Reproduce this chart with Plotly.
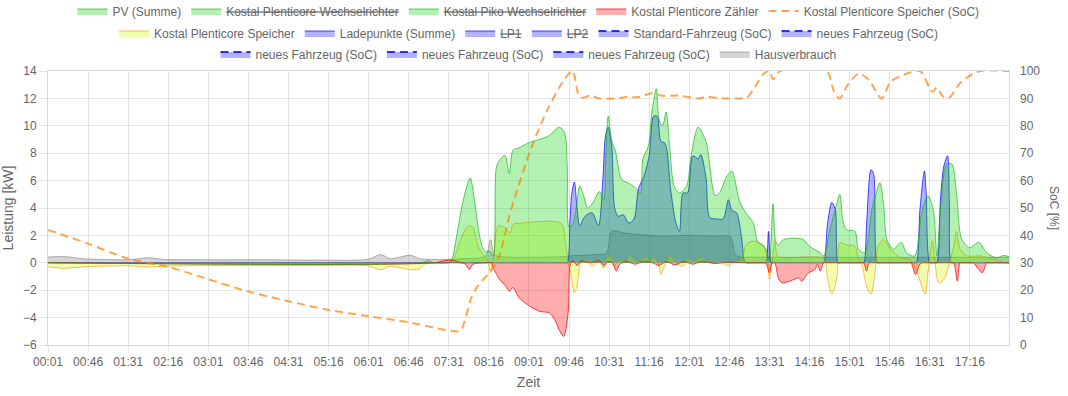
import plotly.graph_objects as go

DAY = "2024-01-01 "

# ---------------- data ----------------
pv_time = ["00:01","07:00","07:08","07:14","07:30","07:33","07:36","07:40","07:47","07:55","08:00",
           "08:05","08:09","08:13","08:17","08:21","08:24","08:27","08:34","08:39","08:43",
           "08:50","09:02","09:13","09:24","09:35","09:41","09:44","09:46","09:50","09:54",
           "09:58","10:02","10:07","10:13","10:20","10:25","10:27","10:30","10:34","10:38",
           "10:45","10:53","11:00","11:06","11:09","11:15","11:19","11:24","11:27","11:31",
           "11:35","11:39","11:44","11:50","11:58","12:03","12:11","12:20","12:30","12:35",
           "12:43","12:49","12:52","12:58","13:05","13:13","13:18","13:24","13:28","13:31",
           "13:35","13:38","13:41","13:47","13:58","14:09","14:16","14:28","14:32","14:39",
           "14:46","14:50","14:54","14:58","15:07","15:11","15:18","15:26","15:31","15:35",
           "15:39","15:43","15:50","15:59","16:05","16:14","16:22","16:29","16:35","16:39",
           "16:43","16:50","16:56","17:01","17:07","17:16","17:26","17:35","17:46","17:54",
           "18:00"]
pv_kw = [0, 0, 0.15, 0, 0, 0.05, 0.6, 2.0, 4.5, 6.2, 4.5,
         2.2, 1.1, 0.8, 0.85, 0.5, 6.8, 7.4, 7.85, 6.5, 8.2,
         8.4, 8.8, 9.0, 9.3, 9.9, 9.5, 7.0, 2.6, 2.8, 4.0,
         5.6, 5.0, 4.0, 4.4, 5.2, 4.6, 7.5, 10.7, 8.9, 8.2,
         6.1, 5.8, 5.5, 5.1, 7.6, 8.5, 11.0, 12.7, 10.5, 10.0,
         11.0, 8.5, 5.6, 5.1, 5.6, 7.8, 9.9, 8.8, 4.9, 5.1,
         6.3, 6.7, 6.1, 4.4, 3.6, 2.9, 1.5, 1.3, 0.85, 0.2,
         4.3, 1.6, 1.3, 1.7, 1.8, 1.7, 1.2, 0.73, 0.5, 2.44,
         4.15, 5.0, 2.9, 2.4, 2.3, 1.0, 0.73, 3.9, 5.1, 5.85,
         4.4, 1.7, 0.98, 1.5, 0.73, 0.5, 3.66, 4.9, 3.9, 0.5,
         3.9, 7.2, 7.2, 5.1, 1.7, 1.1, 1.5, 0.73, 0.37, 0.54,
         0.44]

zaehler_time = ["00:01","07:15","07:25","07:35","07:45","07:50","07:54","07:58","08:12","08:18",
                "08:22","08:28","08:35","08:39","08:43","08:50","09:02","09:13","09:24","09:30",
                "09:35","09:40","09:45","09:47","09:50","09:55","10:00","10:10","10:20","10:25",
                "10:30","10:35","10:39","10:43","10:50","11:00","11:10","11:20","11:27","11:35",
                "11:45","11:55","12:05","12:15","12:30","12:45","13:00","13:24","13:27","13:31",
                "13:34","13:37","13:41","13:45","13:54","14:04","14:07","14:15","14:22","14:25",
                "14:28","14:32","14:35","15:14","15:17","15:20","15:23","15:26","16:07","16:10",
                "16:15","16:20","16:23","16:26","16:55","16:58","17:02","17:05","17:08","17:17",
                "17:20","17:25","17:30","17:35","17:38","18:00"]
zaehler_kw = [0, 0, 0.15, 0.2, 0, -0.1, -0.5, -0.1, 0, 0,
              -0.5, -1.2, -1.7, -2.07, -1.8, -2.56, -3.17, -3.54, -3.66, -4.15,
              -4.9, -5.37, -3.66, -0.25, 0.2, -0.2, 0.15, 0.0, 0.2, -0.2,
              0.1, 0.0, -0.6, -0.1, 0.1, -0.1, 0.1, 0.0, -0.2, 0.1,
              -0.15, 0.1, -0.1, 0.1, -0.05, 0.05, 0, 0, 0, -0.73,
              0, 0, -1.1, -1.46, -1.34, -1.1, -1.34, -0.73, -0.5, -0.1,
              -0.6, 0, 0, 0, 0, -0.6, 0, 0, 0, 0,
              -0.85, -0.1, 0, 0, 0, 0, -1.34, 0, 0, 0,
              0, -0.4, -0.73, 0, 0, 0]

speicher_time = ["00:01","00:20","00:40","01:00","01:30","01:55","02:10","03:00","04:00","05:00",
                 "06:00","06:15","06:25","06:48","06:58","07:05","07:30","07:35","07:45","07:53",
                 "07:58","08:03","08:09","08:14","08:18","08:21","08:24","08:27","08:34","08:40",
                 "08:43","08:50","09:37","09:42","09:45","09:48","09:52","09:55","09:59","10:04",
                 "10:12","10:19","10:25","10:28","10:32","10:36","10:43","10:49","10:55","11:00",
                 "11:07","11:13","11:16","11:22","11:27","11:29","11:33","11:39","11:46","11:54",
                 "11:58","12:07","12:13","12:20","12:28","12:35","12:41","12:45","12:50","13:00",
                 "13:04","13:09","13:17","13:21","13:26","13:29","13:31","13:34","13:37","13:40",
                 "13:47","14:30","14:34","14:36","14:41","14:47","14:50","14:58","15:07","15:11",
                 "15:15","15:20","15:25","15:29","15:33","15:39","15:47","15:58","16:09","16:17",
                 "16:22","16:26","16:29","16:34","16:37","16:41","16:47","16:52","16:58","17:01",
                 "17:05","17:13","17:28","17:43","18:00"]
speicher_kw = [-0.3, -0.4, -0.3, -0.25, -0.22, -0.3, -0.25, -0.2, -0.2, -0.2,
               -0.22, -0.5, -0.25, -0.5, -0.45, -0.05, -0.02, 0.1, 1.8, 2.7,
               2.6, 1.4, 0.6, 0.3, -0.7, 0.2, 2.2, 2.7, 2.55, 2.2,
               2.8, 2.88, 2.88, 1.5, 0.0, -0.8, -2.2, -1.7, 0, 0.25,
               -0.25, 0.1, -0.37, 0.37, 0.5, -0.25, 0.2, 0, 0.5, 0.2,
               0.1, 0.5, 0.1, 0.37, -0.25, -0.85, -0.25, 0.5, 0.0, -0.25,
               0.25, 0.1, 0.37, 0.1, 0.0, 0.1, -0.1, -0.25, 0.0, 0.25,
               1.2, 1.54, 1.54, 1.4, 1.0, 0, -1.2, 0, 1.6, 0.5,
               0.37, 0.37, 0.0, -1.0, -2.3, -1.0, 1.46, 1.3, 1.2, 0.25,
               -0.2, -1.7, -2.3, -1.0, 1.2, 1.7, 1.0, 0.37, 0.2, -0.73,
               -1.7, -2.3, -0.73, 1.6, 0, -1.46, -1.2, -0.25, 1.2, 2.3,
               1.0, 0.5, 0.5, 0.25, -0.05]

ladepunkte_time = ["00:01","09:36","09:40","09:44","09:47","09:49","09:52","09:55","09:58","10:04",
                   "10:12","10:19","10:24","10:27","10:30","10:34","10:37","10:41","10:47","10:53",
                   "10:59","11:04","11:10","11:16","11:21","11:25","11:29","11:34","11:40","11:46",
                   "11:50","11:54","11:59","12:05","12:11","12:14","12:20","12:24","12:32","12:39",
                   "12:45","12:49","12:54","13:00","13:03","13:05","13:08","13:24","13:27","13:30",
                   "13:33","13:36","14:26","14:29","14:32","14:36","14:41","14:45","14:48","14:51",
                   "15:11","15:14","15:17","15:20","15:25","15:28","15:32","15:35","16:10","16:13",
                   "16:16","16:20","16:25","16:27","16:31","16:34","16:36","16:39","16:43","16:47",
                   "16:51","16:53","16:55","16:58","17:01","18:00"]
ladepunkte_kw = [0, 0, 0, 0, 3.0, 5.0, 5.9, 4.0, 2.7, 3.4,
                 3.65, 2.7, 6.1, 9.3, 9.9, 8.5, 4.1, 3.4, 3.5, 2.9,
                 3.2, 5.4, 6.3, 7.8, 10.7, 10.7, 8.9, 8.7, 5.4, 2.9,
                 2.3, 5.1, 5.1, 7.8, 7.6, 7.9, 6.1, 3.3, 3.2, 3.2,
                 4.6, 3.8, 3.66, 1.7, 0.1, 0, 0, 0, 0, 2.3,
                 0, 0, 0, 0, 0, 2.7, 4.4, 3.9, 0, 0,
                 0, 0, 0, 2.7, 6.8, 6.5, 0, 0, 0, 0,
                 0, 3.9, 6.7, 5.1, 0, 0, 0, 0, 4.6, 7.1,
                 7.8, 4.4, 0, 0, 0, 0]

haus_time = ["00:01","00:20","00:40","01:00","01:30","01:55","02:10","03:00","04:00","05:00",
             "06:00","06:15","06:25","06:48","06:58","07:10","07:30","07:45","08:12","08:18",
             "08:22","08:30","09:40","09:46","10:15","10:28","10:34","10:50","11:30","12:00",
             "12:30","12:47","12:52","12:56","13:10","18:00"]
haus_kw = [0.42, 0.45, 0.3, 0.25, 0.22, 0.37, 0.25, 0.22, 0.22, 0.2,
           0.25, 0.6, 0.3, 0.55, 0.3, 0.25, 0.25, 0.3, 0.5, 1.7,
           0.6, 0.45, 0.45, 0.5, 0.6, 0.7, 2.3, 2.15, 1.95, 2.0,
           1.95, 1.9, 0.7, 0.45, 0.42, 0.4]

soc_time = ["00:01","00:46","01:31","02:16","03:01","03:46","04:31","05:16","06:01","06:46",
            "07:31","07:44","07:50","07:56","08:03","08:16","08:26","08:41","09:03","09:22",
            "09:41","09:50","09:56","10:00","10:10","10:20","10:40","10:50","11:05","11:20",
            "11:30","11:50","12:10","12:20","12:40","12:58","13:05","13:13","13:24","13:31",
            "13:35","13:43","14:35","14:43","14:50","14:58","15:11","15:22","15:37","15:47",
            "16:05","16:20","16:34","16:39","16:45","16:52","17:05","17:17","17:28","18:00"]
soc_pct = [42, 37, 31.5, 28.5, 24, 19.5, 16, 12.8, 10.5, 8.3,
           5.3, 5.2, 10, 17, 21.3, 26.3, 31, 49.4, 71.4, 86,
           97, 100, 92, 90.2, 91, 90, 90, 90.5, 90.5, 92,
           91, 91, 90, 90.5, 90, 90, 90, 93.3, 98.8, 100,
           97, 100, 100, 93, 90, 94.5, 99, 97, 90, 96,
           99, 100, 92.4, 94, 91, 90, 95.5, 98.5, 100, 100]

legend_row1 = ["PV (Summe)", "<s>Kostal Plenticore Wechselrichter</s>", "<s>Kostal Piko Wechselrichter</s>",
               "Kostal Plenticore Zähler", "Kostal Plenticore Speicher (SoC)"]
legend_row2 = ["Kostal Plenticore Speicher", "Ladepunkte (Summe)", "<s>LP1</s>", "<s>LP2</s>",
               "Standard-Fahrzeug (SoC)", "neues Fahrzeug (SoC)"]
legend_row3 = ["neues Fahrzeug (SoC)", "neues Fahrzeug (SoC)", "neues Fahrzeug (SoC)", "Hausverbrauch"]

# ---------------- styles ----------------
GREEN_L, GREEN_F = "rgba(0,170,0,0.6)", "rgba(0,210,0,0.3)"
RED_L, RED_F = "rgba(255,0,0,0.75)", "rgba(255,0,0,0.32)"
YEL_L, YEL_F = "rgba(255,140,0,0.6)", "rgba(210,255,0,0.32)"
SOC_L = "rgba(255,128,0,0.7)"
BLUE_L, BLUE_F = "rgba(0,0,255,0.7)", "rgba(0,0,255,0.3)"
BLUE_D = "rgba(0,0,255,0.8)"
GRAY_L, GRAY_F = "rgba(128,128,128,0.6)", "rgba(150,150,150,0.4)"


def ts(lst):
    return [DAY + t for t in lst]


for a, b in [(pv_time, pv_kw), (zaehler_time, zaehler_kw), (speicher_time, speicher_kw),
             (ladepunkte_time, ladepunkte_kw), (haus_time, haus_kw), (soc_time, soc_pct)]:
    assert len(a) == len(b), (len(a), len(b))

fig = go.Figure()


def add(name, t, v, line, fill, legend, rank, dash=None, width=1, yaxis="y", filled=True):
    if t is None:
        x, y = [None], [None]
    else:
        x, y = ts(t), v
    fig.add_trace(go.Scatter(
        x=x, y=y, name=name, mode="lines", yaxis=yaxis,
        line=dict(color=line, width=width, shape="spline", smoothing=0.8, dash=dash),
        fill="tozeroy" if filled else "none", fillcolor=fill,
        legend=legend, legendrank=rank, hoverinfo="skip"))


DASH = "8px,5px"
# drawn in reverse order so that the first dataset ends on top (like the original)
add(legend_row3[3], haus_time, haus_kw, GRAY_L, GRAY_F, "legend3", 4)
add(legend_row3[2], None, None, BLUE_D, BLUE_F, "legend3", 3, dash=DASH, width=2, yaxis="y2")
add(legend_row3[1], None, None, BLUE_D, BLUE_F, "legend3", 2, dash=DASH, width=2, yaxis="y2")
add(legend_row3[0], None, None, BLUE_D, BLUE_F, "legend3", 1, dash=DASH, width=2, yaxis="y2")
add(legend_row2[5], None, None, BLUE_D, BLUE_F, "legend2", 6, dash=DASH, width=2, yaxis="y2")
add(legend_row2[4], None, None, BLUE_D, BLUE_F, "legend2", 5, dash=DASH, width=2, yaxis="y2")
add(legend_row2[3], None, None, BLUE_L, BLUE_F, "legend2", 4)
add(legend_row2[2], None, None, BLUE_L, BLUE_F, "legend2", 3)
add(legend_row2[1], ladepunkte_time, ladepunkte_kw, BLUE_L, BLUE_F, "legend2", 2)
add(legend_row2[0], speicher_time, speicher_kw, YEL_L, YEL_F, "legend2", 1)
add(legend_row1[4], soc_time, soc_pct, SOC_L, YEL_F, "legend", 5, dash=DASH, width=2,
    yaxis="y2", filled=False)
add(legend_row1[3], zaehler_time, zaehler_kw, RED_L, RED_F, "legend", 4)
add(legend_row1[2], None, None, GREEN_L, GREEN_F, "legend", 3)
add(legend_row1[1], None, None, GREEN_L, GREEN_F, "legend", 2)
add(legend_row1[0], pv_time, pv_kw, GREEN_L, GREEN_F, "legend", 1)

GRID = "rgba(0,0,0,0.1)"
TOP, BOT, LEFT, RIGHT = 71, 51, 48, 59
PH = 396 - TOP - BOT
PW = 1068 - LEFT - RIGHT


def row_y(px):
    return (396 - BOT - px) / PH


legend_common = dict(orientation="h", x=0.5, xanchor="center", yanchor="middle",
                     font=dict(size=12, color="#666"), bgcolor="rgba(0,0,0,0)",
                     itemclick=False, itemdoubleclick=False)

fig.update_layout(
    width=1068, height=396,
    margin=dict(l=LEFT, r=RIGHT, t=TOP, b=BOT, autoexpand=False),
    paper_bgcolor="white", plot_bgcolor="white",
    font=dict(family="Liberation Sans, Arial, sans-serif", size=12, color="#666"),
    hovermode=False,
    showlegend=True,
    legend=dict(y=row_y(11), **legend_common),
    legend2=dict(y=row_y(33), **legend_common),
    legend3=dict(y=row_y(54), **legend_common),
    xaxis=dict(type="date", range=[DAY + "00:01", DAY + "18:00"],
               tick0=DAY + "00:01", dtick=45 * 60 * 1000, tickformat="%H:%M",
               showgrid=True, gridcolor=GRID, zeroline=False,
               ticks="outside", ticklen=6, tickcolor=GRID,
               showline=True, linecolor="rgba(0,0,0,0.15)", mirror=True,
               title=dict(text="Zeit", standoff=8)),
    yaxis=dict(range=[-6, 14], dtick=2, showgrid=True, gridcolor=GRID, zeroline=False,
               ticks="outside", ticklen=8, tickcolor=GRID,
               showline=True, linecolor="rgba(0,0,0,0.15)", mirror=True,
               title=dict(text="Leistung [kW]", standoff=6)),
    yaxis2=dict(range=[0, 100], dtick=10, overlaying="y", side="right",
                showgrid=False, zeroline=False, ticks="", ticklabelstandoff=10,
                showline=False),
    annotations=[dict(text="SoC [%]", xref="paper", yref="paper", x=(1054 - LEFT) / PW,
                      y=0.5, textangle=90, showarrow=False, xanchor="center", yanchor="middle",
                      font=dict(size=12, color="#666"))],
)

# the page's default 8px body margin would push the fixed-size figure off the window
fig.write_html("out.html", config={"displayModeBar": False},
               post_script="document.body.style.margin='0px';")
